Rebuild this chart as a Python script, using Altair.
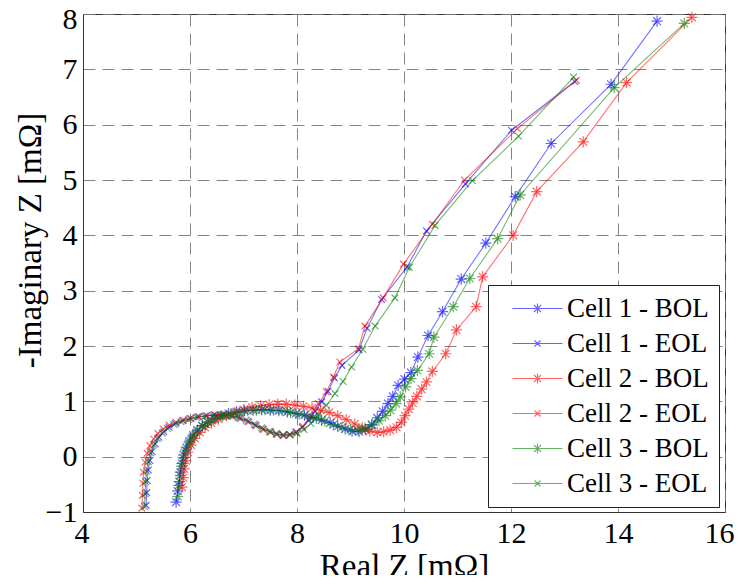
import altair as alt
import pandas as pd

series_names = ["Cell 1 - BOL", "Cell 1 - EOL", "Cell 2 - BOL", "Cell 2 - EOL", "Cell 3 - BOL", "Cell 3 - EOL"]
series_colors = ["#0000ff", "#0000ff", "#ff0000", "#ff0000", "#008000", "#008000"]

x_ticks = [4, 6, 8, 10, 12, 14, 16]
y_ticks = [-1, 0, 1, 2, 3, 4, 5, 6, 7, 8]

c1_bol_re = [5.74, 5.77, 5.80, 5.82, 5.85, 5.88, 5.93, 5.99, 6.06, 6.14, 6.23, 6.33, 6.45, 6.58, 6.72, 6.87, 7.02, 7.18, 7.34, 7.50,
             7.66, 7.82, 7.98, 8.14, 8.30, 8.46, 8.62, 8.76, 8.90, 9.03, 9.16, 9.28, 9.40, 9.50, 9.60, 9.70, 9.79, 9.89, 10.01, 10.13,
             10.26, 10.45, 10.72, 11.07, 11.53, 12.08, 12.75, 13.87, 14.73]
c1_bol_im = [-0.82, -0.62, -0.45, -0.28, -0.12, 0.03, 0.16, 0.28, 0.39, 0.48, 0.56, 0.63, 0.69, 0.74, 0.78, 0.81, 0.83, 0.84, 0.85, 0.84,
             0.83, 0.81, 0.78, 0.75, 0.71, 0.66, 0.61, 0.55, 0.50, 0.46, 0.45, 0.49, 0.58, 0.70, 0.82, 0.96, 1.09, 1.29, 1.40, 1.52,
             1.80, 2.19, 2.62, 3.21, 3.86, 4.70, 5.66, 6.73, 7.87]

c1_eol_re = [5.18, 5.19, 5.20, 5.22, 5.25, 5.29, 5.35, 5.42, 5.51, 5.61, 5.73, 5.86, 6.00, 6.15, 6.30, 6.46, 6.62, 6.78, 6.93, 7.08,
             7.22, 7.36, 7.50, 7.62, 7.74, 7.86, 7.98, 8.10, 8.22, 8.34, 8.46, 8.58, 8.70, 8.84, 9.16, 9.31, 9.58, 10.06, 10.42, 11.15,
             12.01, 13.19]
c1_eol_im = [-0.88, -0.65, -0.43, -0.24, -0.07, 0.09, 0.23, 0.35, 0.45, 0.53, 0.60, 0.65, 0.69, 0.72, 0.74, 0.76, 0.76, 0.74, 0.70, 0.64,
             0.57, 0.50, 0.45, 0.41, 0.39, 0.40, 0.44, 0.53, 0.66, 0.82, 0.99, 1.18, 1.42, 1.65, 1.93, 2.32, 2.84, 3.43, 4.08, 4.93,
             5.90, 6.78]

c2_bol_re = [5.85, 5.87, 5.89, 5.92, 5.96, 6.02, 6.09, 6.18, 6.28, 6.40, 6.53, 6.68, 6.84, 7.00, 7.16, 7.32, 7.48, 7.64, 7.80, 7.96,
             8.12, 8.28, 8.44, 8.60, 8.76, 8.92, 9.08, 9.22, 9.36, 9.50, 9.62, 9.74, 9.86, 9.95, 10.02, 10.09, 10.16, 10.24, 10.33, 10.42,
             10.53, 10.78, 10.98, 11.35, 11.47, 12.04, 12.48, 13.35, 14.16, 15.38]
c2_bol_im = [-0.55, -0.38, -0.22, -0.07, 0.08, 0.21, 0.33, 0.44, 0.53, 0.61, 0.68, 0.74, 0.80, 0.85, 0.89, 0.92, 0.94, 0.95, 0.95, 0.93,
             0.91, 0.88, 0.84, 0.80, 0.74, 0.67, 0.59, 0.52, 0.46, 0.44, 0.45, 0.48, 0.53, 0.62, 0.74, 0.86, 0.97, 1.09, 1.22, 1.35,
             1.54, 1.86, 2.29, 2.71, 3.25, 4.00, 4.79, 5.69, 6.76, 7.94]

c2_eol_re = [5.10, 5.11, 5.12, 5.13, 5.16, 5.20, 5.25, 5.32, 5.40, 5.50, 5.61, 5.74, 5.88, 6.02, 6.17, 6.32, 6.48, 6.64, 6.80, 6.95,
             7.10, 7.24, 7.38, 7.51, 7.63, 7.75, 7.87, 7.99, 8.11, 8.24, 8.40, 8.55, 8.68, 8.80, 9.15, 9.27, 9.61, 9.99, 10.53, 11.13,
             12.12, 13.22]
c2_eol_im = [-0.93, -0.70, -0.48, -0.28, -0.10, 0.06, 0.20, 0.32, 0.42, 0.50, 0.57, 0.62, 0.66, 0.69, 0.72, 0.74, 0.75, 0.75, 0.73, 0.69,
             0.63, 0.56, 0.49, 0.44, 0.40, 0.38, 0.40, 0.45, 0.55, 0.72, 0.96, 1.17, 1.44, 1.71, 1.95, 2.36, 2.87, 3.48, 4.20, 5.00,
             5.93, 6.80]

c3_bol_re = [5.77, 5.79, 5.81, 5.84, 5.87, 5.92, 5.98, 6.05, 6.13, 6.23, 6.34, 6.47, 6.61, 6.76, 6.92, 7.08, 7.24, 7.40, 7.56, 7.72,
             7.88, 8.04, 8.20, 8.36, 8.52, 8.68, 8.84, 9.00, 9.14, 9.27, 9.40, 9.53, 9.65, 9.75, 9.85, 9.93, 10.03, 10.13, 10.25, 10.47,
             10.56, 10.92, 11.23, 11.75, 12.17, 13.93, 15.24]
c3_bol_im = [-0.72, -0.52, -0.34, -0.17, -0.02, 0.12, 0.25, 0.36, 0.46, 0.55, 0.62, 0.68, 0.73, 0.77, 0.80, 0.83, 0.84, 0.85, 0.84, 0.83,
             0.80, 0.77, 0.73, 0.69, 0.64, 0.58, 0.53, 0.49, 0.48, 0.51, 0.57, 0.65, 0.74, 0.84, 0.96, 1.08, 1.26, 1.41, 1.56, 1.86,
             2.16, 2.71, 3.22, 3.94, 4.73, 6.67, 7.83]

c3_eol_re = [5.15, 5.16, 5.17, 5.19, 5.22, 5.26, 5.32, 5.39, 5.48, 5.58, 5.70, 5.83, 5.97, 6.12, 6.27, 6.43, 6.59, 6.75, 6.90, 7.05,
             7.20, 7.34, 7.48, 7.61, 7.74, 7.87, 8.00, 8.13, 8.26, 8.40, 8.55, 8.71, 8.86, 9.02, 9.23, 9.46, 9.83, 10.10, 10.58, 11.28,
             12.14, 13.17]
c3_eol_im = [-0.90, -0.67, -0.45, -0.26, -0.09, 0.07, 0.21, 0.33, 0.43, 0.51, 0.58, 0.63, 0.67, 0.71, 0.73, 0.75, 0.75, 0.74, 0.71, 0.66,
             0.59, 0.52, 0.46, 0.42, 0.39, 0.39, 0.42, 0.49, 0.60, 0.76, 0.93, 1.14, 1.36, 1.62, 1.94, 2.36, 2.87, 3.42, 4.18, 4.99,
             5.79, 6.86]

all_re = [c1_bol_re, c1_eol_re, c2_bol_re, c2_eol_re, c3_bol_re, c3_eol_re]
all_im = [c1_bol_im, c1_eol_im, c2_bol_im, c2_eol_im, c3_bol_im, c3_eol_im]

rows = []
for name, res, ims in zip(series_names, all_re, all_im):
    assert len(res) == len(ims), name
    for i, (r, m) in enumerate(zip(res, ims)):
        rows.append({"series": name, "re": r, "im": m, "idx": i})
df = pd.DataFrame(rows)

STAR = "M0,-1L0,1M-1,0L1,0M-0.7,-0.7L0.7,0.7M-0.7,0.7L0.7,-0.7"
XMARK = "M-0.6,-0.6L0.6,0.6M-0.6,0.6L0.6,-0.6"
STAR_LEG = "M-5,0L5,0" + STAR
XMARK_LEG = "M-5,0L5,0" + XMARK

marker_shapes = [STAR, XMARK, STAR, XMARK, STAR, XMARK]
legend_shapes = [STAR_LEG, XMARK_LEG, STAR_LEG, XMARK_LEG, STAR_LEG, XMARK_LEG]

FONT = "'Liberation Serif', 'Times New Roman', 'DejaVu Serif', serif"

x_enc = alt.X("re:Q", scale=alt.Scale(domain=[4, 16], nice=False, zero=False),
              axis=alt.Axis(values=x_ticks, title="Real Z [mΩ]", format="d",
                            labelFlush=True, labelFlushOffset=9,
                            labelFont=FONT, titleFont=FONT,
                            titleY=64, titleBaseline="alphabetic"))
y_enc = alt.Y("im:Q", scale=alt.Scale(domain=[-1, 8], nice=False, zero=False),
              axis=alt.Axis(values=y_ticks, title="-Imaginary Z [mΩ]", format="d", labelFlush=False,
                            labelOffset={"condition": {"test": "datum.value == 8", "value": 5}, "value": 0},
                            labelFont=FONT, titleFont=FONT,
                            titleX=-36, titleY=226, titleAngle=270, titleBaseline="bottom", titleAlign="center"))

color_scale = alt.Scale(domain=series_names, range=series_colors)

base = alt.Chart(df)

lines = base.mark_line(strokeWidth=1.1, opacity=0.55).encode(
    x=x_enc, y=y_enc,
    color=alt.Color("series:N", scale=color_scale, legend=None),
    order="idx:Q",
)

points = base.mark_point(filled=False, size=125, strokeWidth=1.2, opacity=0.6).encode(
    x=x_enc, y=y_enc,
    color=alt.Color("series:N", scale=color_scale, legend=None),
    shape=alt.Shape("series:N", scale=alt.Scale(domain=series_names, range=marker_shapes), legend=None),
)

leg = alt.Legend(title=None, orient="none", legendX=405, legendY=271,
                 strokeColor="#222222", fillColor="white", padding=10, rowPadding=7,
                 symbolOffset=26, labelOffset=16, symbolStrokeWidth=1.1, symbolOpacity=0.6,
                 labelFont=FONT, labelFontSize=27, labelColor="black", labelLimit=0)

legend_layer = base.transform_filter("false").mark_point(filled=False, size=144, strokeWidth=1.1, opacity=0.6).encode(
    x=x_enc, y=y_enc,
    color=alt.Color("series:N", scale=color_scale, legend=leg),
    shape=alt.Shape("series:N", scale=alt.Scale(domain=series_names, range=legend_shapes), legend=leg),
)

chart = alt.layer(lines, points, legend_layer).resolve_scale(
    color="independent", shape="independent"
).properties(
    width=642, height=498,
    autosize=alt.AutoSizeParams(type="none"),
    padding={"left": 75, "top": 6, "right": 9, "bottom": 63},
).configure(
    font=FONT
).configure_view(
    stroke="#333333", strokeWidth=1
).configure_axis(
    labelFont=FONT, labelFontSize=30, labelColor="black",
    titleFont=FONT, titleFontSize=33, titleFontWeight="normal", titleColor="black",
    grid=True, gridDash=[12, 7], gridColor="#777777", gridWidth=1, gridOpacity=0.9,
    ticks=False, domainColor="#333333", labelPadding=6,
).configure_legend(
    labelFont=FONT
)

chart.save("out.html", embed_options={"renderer": "svg", "actions": False})
